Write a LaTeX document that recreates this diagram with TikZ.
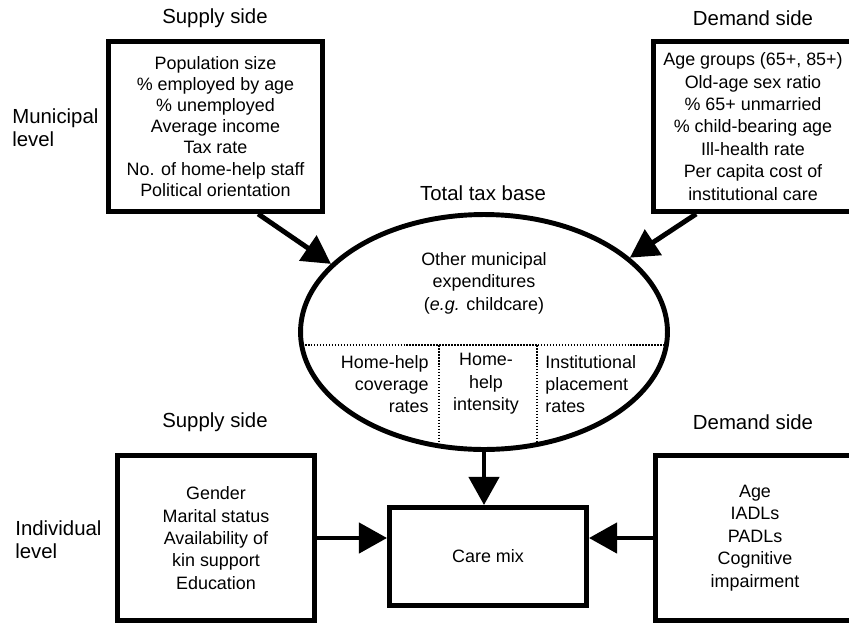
\documentclass[tikz,border=0pt]{standalone}
\usepackage{fontspec}
\setmainfont{Liberation Sans}
\usetikzlibrary{shapes.geometric,arrows.meta}

\begin{document}
\begin{tikzpicture}[x=0.02cm,y=-0.02cm,
  box/.style={draw,line width=2.8pt,align=center,inner sep=0pt,font=\fontsize{10.2}{12.75}\selectfont},
  head/.style={font=\fontsize{11.6}{13}\selectfont,inner sep=0pt},
  intext/.style={font=\fontsize{10.2}{12.75}\selectfont,inner sep=0pt},
  arr/.style={line width=2.8pt,-{Triangle[length=16pt,width=17pt]}},
  divider/.style={line width=1.1pt,dash pattern=on 0.9pt off 0.8pt}]
\useasboundingbox (0,0) rectangle (849,626);
\clip (0,0) rectangle (849,626);

% municipal level
\node[head] (supA) at (215,18) {Supply side};
\node[head] (demA) at (753,18) {Demand side};
\node[head,align=left,anchor=west] (mun) at (12,128) {Municipal\\level};
\node[box,minimum width=4.28cm,minimum height=3.4cm,font=\fontsize{10.2}{12}\selectfont] (tl) at (215.5,126.5)
  {Population size\\\% employed by age\\\% unemployed\\Average income\\Tax rate\\No. of home-help staff\\Political orientation};
\node[box,minimum width=3.98cm,minimum height=3.4cm] (tr) at (753,126.5)
  {Age groups (65+, 85+)\\Old-age sex ratio\\\% 65+ unmarried\\\% child-bearing age\\Ill-health rate\\Per capita cost of\\institutional care};

% tax base
\node[draw,ellipse,line width=2.8pt,minimum width=7.34cm,minimum height=4.7cm,inner sep=0pt] (tax) at (484,332) {};
\node[head] (base) at (483,193) {Total tax base};
\node[intext,align=center] (other) at (484,283) {Other municipal\\expenditures\\(\textit{e.g.} childcare)};
\begin{scope}
\clip (tax.center) ellipse [x radius=3.67cm, y radius=2.35cm];
\draw[divider] (290,345) -- (680,345);
\draw[divider] (439,345) -- (439,460);
\draw[divider] (537,345) -- (537,460);
\end{scope}
\node[intext,align=right,anchor=east] (cov) at (429,384) {Home-help\\coverage\\rates};
\node[intext,align=center] (int) at (486,384) {Home-\\help\\intensity};
\node[intext,align=left,anchor=west] (inst) at (545,384) {Institutional\\placement\\rates};

% individual level
\node[head] (supB) at (215,422) {Supply side};
\node[head] (demB) at (753,422) {Demand side};
\node[head,align=left,anchor=west] (ind) at (15,540) {Individual\\level};
\node[box,minimum width=3.94cm,minimum height=3.3cm] (bl) at (216,538)
  {Gender\\Marital status\\Availability of\\kin support\\Education};
\node[box,minimum width=3.98cm,minimum height=3.3cm] (br) at (755,538)
  {Age\\IADLs\\PADLs\\Cognitive\\impairment};
\node[box,minimum width=3.94cm,minimum height=1.96cm] (care) at (488,556.5) {Care mix};

\draw[arr] (tl.-64) -- (tax.156);
\draw[arr] (tr.-123) -- (tax.27);
\draw[arr] (tax.south) -- (tax.south |- care.north);
\draw[arr] (bl.east) -- (bl.east -| care.west);
\draw[arr] (br.west) -- (br.west -| care.east);
\end{tikzpicture}
\end{document}
